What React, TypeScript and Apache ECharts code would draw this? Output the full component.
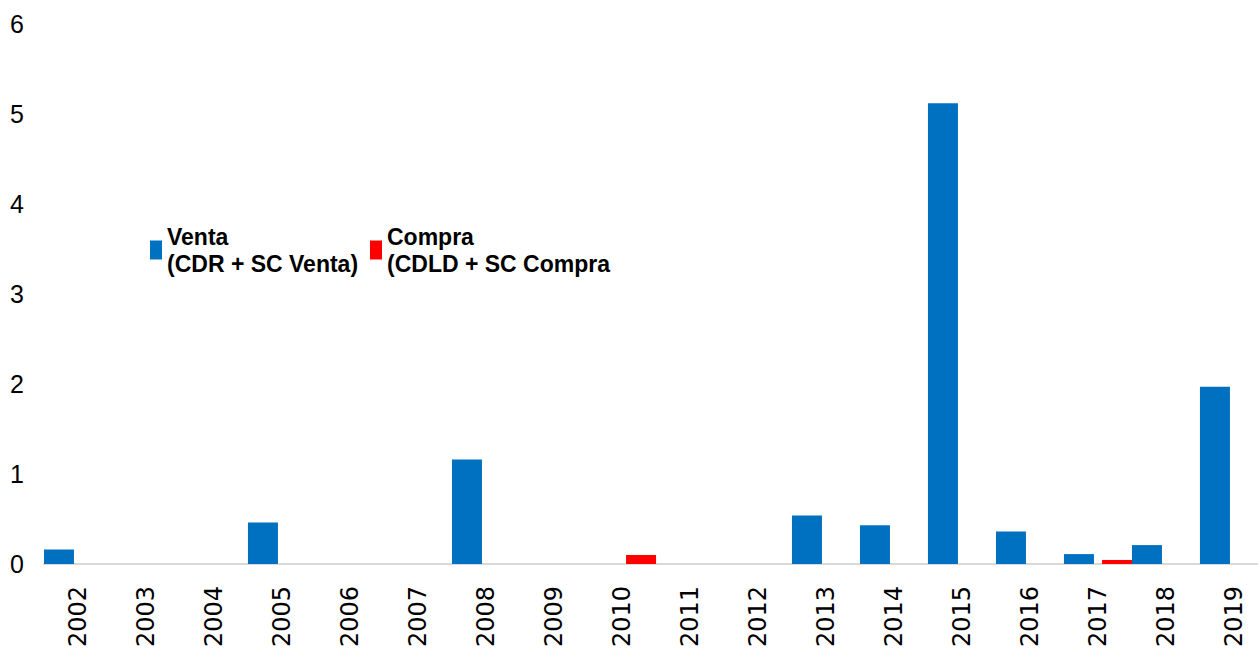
import React, { useEffect, useRef } from "react";
import * as echarts from "echarts";

const years = ["2002","2003","2004","2005","2006","2007","2008","2009","2010","2011","2012","2013","2014","2015","2016","2017","2018","2019"];
const venta = [0.16, null, null, 0.46, null, null, 1.16, null, null, null, null, 0.54, 0.43, 5.12, 0.36, 0.11, 0.21, 1.97];
const compra = [null, null, null, null, null, null, null, null, 0.1, null, null, null, null, null, null, 0.045, null, null];
const legendText: Record<string, string> = {
  Venta: "Venta\n(CDR + SC Venta)",
  Compra: "Compra\n(CDLD + SC Compra",
};

export default function App() {
  const ref = useRef<HTMLDivElement>(null);
  useEffect(() => {
    document.body.style.margin = "0";
    document.body.style.overflow = "hidden";
    const chart = echarts.init(ref.current!, null, { renderer: "svg" });
    const legendBase = {
      top: 216,
      padding: 0,
      itemWidth: 12,
      itemHeight: 19,
      itemGap: 3,
      icon: "rect",
      formatter: (n: string) => legendText[n],
      textStyle: {
        fontFamily: "Liberation Sans, Arial, sans-serif",
        fontWeight: "bold",
        fontSize: 23,
        lineHeight: 27,
        color: "#000",
        padding: [14, 0, 0, 0],
      },
    };
    chart.setOption({
      animation: false,
      grid: {
        left: 44,
        width: 1224,
        top: 24,
        bottom: 91,
        containLabel: false,
        outerBoundsMode: "none",
      },
      legend: [
        { ...legendBase, left: 150, data: ["Venta"] },
        { ...legendBase, left: 370, data: ["Compra"] },
      ],
      xAxis: {
        type: "category",
        data: years,
        axisLine: { show: true, lineStyle: { color: "#d9d9d9", width: 2 } },
        axisTick: { show: false },
        axisLabel: {
          rotate: 90,
          margin: 22,
          fontFamily: "DejaVu Sans, sans-serif",
          fontSize: 24,
          color: "#000",
          interval: 0,
        },
      },
      yAxis: {
        type: "value",
        min: 0,
        max: 6,
        interval: 1,
        axisLine: { show: false },
        axisTick: { show: false },
        splitLine: { show: false },
        axisLabel: {
          margin: 20,
          fontFamily: "Liberation Sans Narrow, Arial Narrow, Liberation Sans, sans-serif",
          fontSize: 25,
          color: "#000",
        },
      },
      series: [
        {
          name: "Venta",
          type: "bar",
          data: venta,
          barWidth: 30,
          barGap: "27%",
          itemStyle: { color: "#0070C0" },
        },
        {
          name: "Compra",
          type: "bar",
          data: compra,
          barWidth: 30,
          itemStyle: { color: "#FF0000" },
        },
      ],
    });
    return () => chart.dispose();
  }, []);
  return <div ref={ref} style={{ width: 1258, height: 655 }} />;
}
